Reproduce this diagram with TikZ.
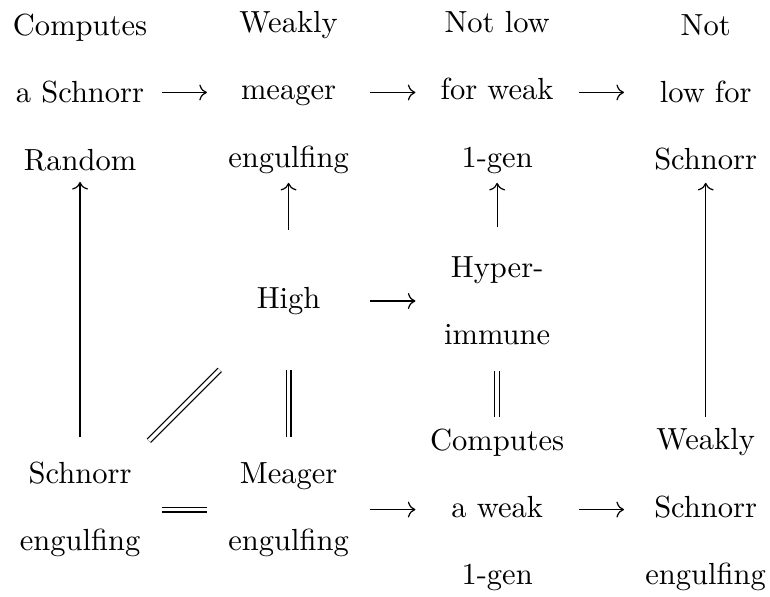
\documentclass[tikz,border=0pt]{standalone}
\usetikzlibrary{arrows.meta}
\begin{document}
\begin{tikzpicture}[
    >={Computer Modern Rightarrow},
    every node/.style={align=center, font=\fontsize{10}{22}\selectfont},
    harr/.style={->, shorten <=0.94cm, shorten >=0.94cm},
    eqline/.style={double, double distance=1.2pt},
]

% Grid spacing
\def\gap{2.4}

\useasboundingbox (-0.921,-5.795) rectangle (7.940,1.064);

% Top row
\node (csr) at (0,0) {Computes\\a Schnorr\\Random};
\node (wme) at (\gap,0) {Weakly\\meager\\engulfing};
\node (nlw) at (2*\gap,0) {Not low\\for weak\\1-gen};
\node (nls) at (3*\gap,0) {Not\\low for\\Schnorr};

% Middle row
\node (high) at (\gap,-\gap) {High};
\node (hyp) at (2*\gap,-\gap) {Hyper-\\immune};

% Bottom row
\node (sen) at (0,-2*\gap) {Schnorr\\engulfing};
\node (men) at (\gap,-2*\gap) {Meager\\engulfing};
\node (cwg) at (2*\gap,-2*\gap) {Computes\\a weak\\1-gen};
\node (wse) at (3*\gap,-2*\gap) {Weakly\\Schnorr\\engulfing};

% Horizontal arrows
\draw[harr] (csr.center) -- (wme.center);
\draw[harr] (wme.center) -- (nlw.center);
\draw[harr] (nlw.center) -- (nls.center);
\draw[harr] (high.center) -- (hyp.center);
\draw[harr] (men.center) -- (cwg.center);
\draw[harr] (cwg.center) -- (wse.center);
\draw[eqline, shorten <=0.94cm, shorten >=0.94cm] (sen.center) -- (men.center);

% Vertical arrows
\draw[->, shorten <=0.83cm, shorten >=1.03cm] (sen.center) -- (csr.center);
\draw[->, shorten <=0.82cm, shorten >=1.04cm] (high.center) -- (wme.center);
\draw[->, shorten <=0.85cm, shorten >=1.04cm] (hyp.center) -- (nlw.center);
\draw[->, shorten <=1.07cm, shorten >=1.04cm] (wse.center) -- (nls.center);

% Equalities
\draw[eqline, shorten <=0.83cm, shorten >=0.79cm] (men.center) -- (high.center);
\draw[eqline, shorten <=1.07cm, shorten >=0.81cm] (cwg.center) -- (hyp.center);
\draw[eqline, shorten <=1.12cm, shorten >=1.12cm] (sen.center) -- (high.center);

\end{tikzpicture}
\end{document}
